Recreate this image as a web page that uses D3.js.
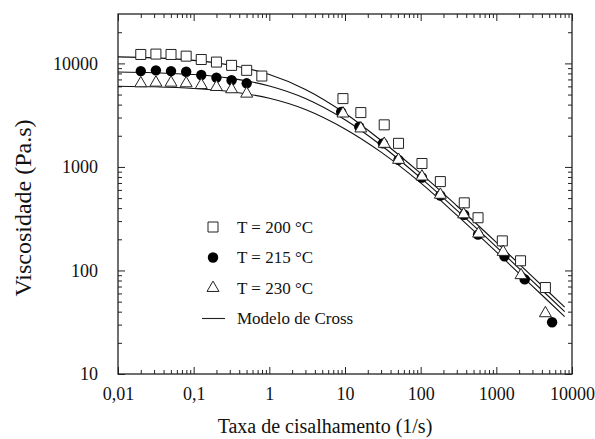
<!DOCTYPE html>
<html>
<head>
<meta charset="utf-8">
<script src="https://cdn.jsdelivr.net/npm/d3@7"></script>
<style>
  body { margin: 0; background: #fff; }
  svg { display: block; font-family: 'Liberation Serif', 'Times New Roman', serif; }
</style>
</head>
<body>
<svg></svg>
<script>
// measured points, 200 / 215 / 230 °C
const x200 = [0.02, 0.0317, 0.0502, 0.0796, 0.126, 0.2, 0.317, 0.502, 0.796, 9.4, 16.2, 33, 51, 104, 182, 377, 573, 1200, 2090, 4450];
const y200 = [12200, 12300, 12200, 11750, 10900, 10300, 9570, 8570, 7550, 4570, 3350, 2550, 1690, 1080, 722, 450, 323, 193, 124, 68.4];

const x215 = [0.02, 0.0317, 0.0502, 0.0796, 0.126, 0.2, 0.317, 0.502, 8.9, 15.4, 31.7, 51, 104, 182, 377, 573, 1280, 2370, 5460];
const y215 = [8430, 8570, 8430, 8300, 7720, 7280, 6870, 6420, 3400, 2440, 1690, 1170, 790, 530, 345, 222, 137, 82, 31.6];

const x230 = [0.02, 0.0317, 0.0502, 0.0796, 0.126, 0.2, 0.317, 0.502, 9.4, 16.2, 33, 51, 104, 182, 370, 583, 1230, 2120, 4450];
const y230 = [6420, 6510, 6510, 6420, 6180, 5910, 5620, 5100, 3280, 2350, 1670, 1170, 807, 538, 348, 227, 151, 90, 38.6];

// Cross model curves
const crossX = [0.01, 0.03, 0.1, 0.3, 1, 3, 10, 30, 100, 300, 1000, 3000, 8000];
const cross200 = [11560, 11300, 10700, 9660, 7800, 5600, 3300, 1800, 865, 422, 187, 87.3, 44.2];
const cross215 = [8270, 8130, 7800, 7200, 6050, 4580, 2860, 1620, 783, 382, 169, 79, 40];
const cross230 = [6020, 5940, 5730, 5350, 4610, 3590, 2330, 1390, 701, 342, 151, 70.7, 35.8];

const xTicks = [0.01, 0.1, 1, 10, 100, 1000, 10000];
const xTickLabels = ['0,01', '0,1', '1', '10', '100', '1000', '10000'];
const yTicks = [10, 100, 1000, 10000];
const yTickLabels = ['10', '100', '1000', '10000'];

const legendLabels = ['T = 200 °C', 'T = 215 °C', 'T = 230 °C', 'Modelo de Cross'];

const width = 595;
const height = 439;
const margin = { left: 118, top: 14, right: 23, bottom: 65 };
const innerWidth = width - margin.left - margin.right;
const innerHeight = height - margin.top - margin.bottom;

const svg = d3.select('svg')
    .attr('width', width)
    .attr('height', height);

const g = svg.append('g')
    .attr('transform', `translate(${margin.left}, ${margin.top})`);

const x = d3.scaleLog().domain([0.01, 10000]).range([0, innerWidth]);
const y = d3.scaleLog().domain([10, 30000]).range([innerHeight, 0]);

const minorX = x.ticks().filter(d => !xTicks.includes(d));
const minorY = y.ticks().filter(d => !yTicks.includes(d) && d < 30000);

// axes, ticks pointing inward on all four sides
const addAxis = (axisFn, scale, transform, major, labels, pad) => {
    const gMinor = g.append('g').attr('transform', transform)
        .call(axisFn(scale).tickValues(axisFn === d3.axisBottom || axisFn === d3.axisTop ? minorX : minorY)
            .tickSize(-4).tickSizeOuter(0).tickFormat(''));
    const gMajor = g.append('g').attr('transform', transform)
        .call(axisFn(scale).tickValues(major).tickSize(-7).tickSizeOuter(0)
            .tickPadding(pad).tickFormat((d, i) => labels ? labels[i] : ''));
    [gMinor, gMajor].forEach(a => {
        a.select('.domain').remove();
        a.selectAll('line').attr('stroke', '#222');
        a.selectAll('text').attr('font-size', 18).attr('fill', '#111')
            .style('font-family', "'Liberation Serif', 'Times New Roman', serif");
    });
};

addAxis(d3.axisBottom, x, `translate(0, ${innerHeight})`, xTicks, xTickLabels, 13);
addAxis(d3.axisTop, x, 'translate(0, 0)', xTicks, null, 0);
addAxis(d3.axisLeft, y, 'translate(0, 0)', yTicks, yTickLabels, 20);
addAxis(d3.axisRight, y, `translate(${innerWidth}, 0)`, yTicks, null, 0);

g.append('rect')
    .attr('width', innerWidth)
    .attr('height', innerHeight)
    .attr('fill', 'none')
    .attr('stroke', '#222')
    .attr('stroke-width', 1.3);

// model lines
const line = d3.line()
    .x(d => x(d[0]))
    .y(d => y(d[1]))
    .curve(d3.curveCatmullRom.alpha(0.5));

[cross200, cross215, cross230].forEach(vals => {
    g.append('path')
        .attr('d', line(crossX.map((v, i) => [v, vals[i]])))
        .attr('fill', 'none')
        .attr('stroke', '#111')
        .attr('stroke-width', 1.1);
});

// markers
const sq = d3.symbol().type(d3.symbolSquare).size(100);
const tri = d3.symbol().type(d3.symbolTriangle).size(62);

g.selectAll('.pt215').data(x215.map((v, i) => [v, y215[i]]))
    .enter().append('circle')
    .attr('cx', d => x(d[0]))
    .attr('cy', d => y(d[1]))
    .attr('r', 5.2)
    .attr('fill', '#000');

g.selectAll('.pt200').data(x200.map((v, i) => [v, y200[i]]))
    .enter().append('path')
    .attr('d', sq)
    .attr('transform', d => `translate(${x(d[0])}, ${y(d[1])})`)
    .attr('fill', '#fff')
    .attr('stroke', '#222')
    .attr('stroke-width', 1);

g.selectAll('.pt230').data(x230.map((v, i) => [v, y230[i]]))
    .enter().append('path')
    .attr('d', tri)
    .attr('transform', d => `translate(${x(d[0])}, ${y(d[1])})`)
    .attr('fill', '#fff')
    .attr('stroke', '#222')
    .attr('stroke-width', 1);

// legend
const legend = svg.append('g').attr('transform', 'translate(213, 227)');
const rowGap = 30.5;

legend.append('path').attr('d', sq).attr('fill', '#fff').attr('stroke', '#222');
legend.append('circle').attr('cy', rowGap).attr('r', 5.2).attr('fill', '#000');
legend.append('path').attr('d', tri).attr('transform', `translate(0, ${rowGap * 2})`)
    .attr('fill', '#fff').attr('stroke', '#222');
legend.append('line')
    .attr('x1', -11).attr('x2', 12)
    .attr('y1', rowGap * 3).attr('y2', rowGap * 3)
    .attr('stroke', '#222').attr('stroke-width', 1.1);

legend.selectAll('text').data(legendLabels)
    .enter().append('text')
    .attr('x', 24)
    .attr('y', (d, i) => i * rowGap)
    .attr('dy', '0.35em')
    .attr('font-size', 17)
    .attr('fill', '#111')
    .text(d => d);

// axis titles
svg.append('text')
    .attr('x', 325)
    .attr('y', 433)
    .attr('text-anchor', 'middle')
    .attr('font-size', 20)
    .attr('fill', '#111')
    .text('Taxa de cisalhamento (1/s)');

svg.append('text')
    .attr('transform', 'translate(31, 208) rotate(-90)')
    .attr('text-anchor', 'middle')
    .attr('font-size', 24)
    .attr('fill', '#111')
    .text('Viscosidade (Pa.s)');
</script>
</body>
</html>
